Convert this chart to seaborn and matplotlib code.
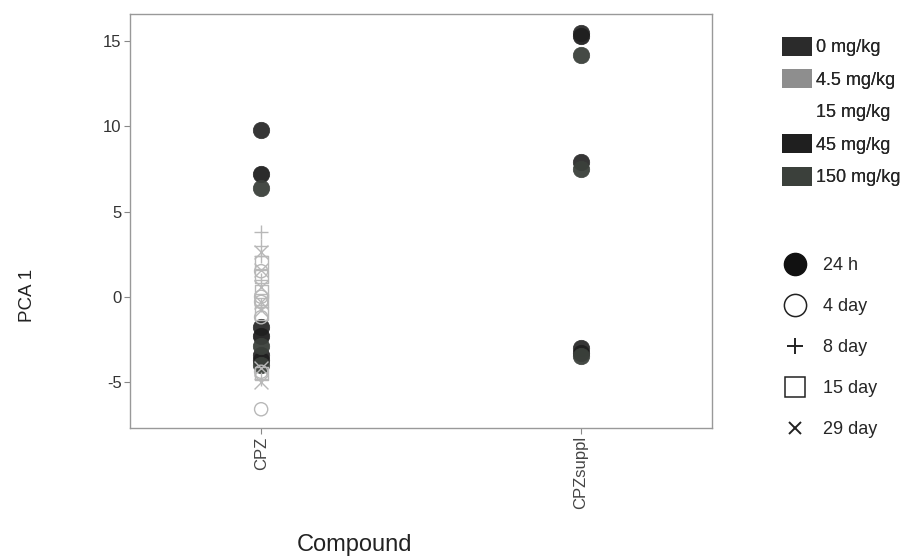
import numpy as np
import pandas as pd
import matplotlib
matplotlib.use("Agg")
import matplotlib.pyplot as plt
from matplotlib.lines import Line2D
from matplotlib.patches import Patch
import seaborn as sns

sns.set_theme(style="white")
plt.rcParams['font.family'] = ['Liberation Sans', 'DejaVu Sans']

compounds = ["CPZ", "CPZsuppl"]
dose_labels = ["0 mg/kg", "4.5 mg/kg", "15 mg/kg", "45 mg/kg", "150 mg/kg"]
dose_colors = ["#2b2b2b", "#8e8e8e", "#ffffff", "#1f1f1f", "#3b403b"]
time_labels = ["24 h", "4 day", "8 day", "15 day", "29 day"]
time_markers = ["o", "o", "+", "s", "x"]
time_filled = [True, False, False, False, False]

cpz_24h_vals = [9.8, 7.2, 6.4, -1.8, -2.3, -2.9, -3.4, -3.7, -4.0]
cpz_24h_dose = ["0 mg/kg", "45 mg/kg", "150 mg/kg", "0 mg/kg", "45 mg/kg",
                "150 mg/kg", "0 mg/kg", "45 mg/kg", "150 mg/kg"]
sup_24h_vals = [15.5, 15.3, 14.2, 7.9, 7.5, -3.0, -3.3, -3.5]
sup_24h_dose = ["0 mg/kg", "45 mg/kg", "150 mg/kg", "0 mg/kg", "150 mg/kg",
                "0 mg/kg", "45 mg/kg", "150 mg/kg"]
cpz_4d_vals = [1.5, 0.0, -0.3, -1.2, -4.4, -6.6]
cpz_8d_vals = [3.8, 3.0, 2.4, 1.0, -0.5, -4.8]
cpz_15d_vals = [2.0, 1.2, 0.3, -0.2, -1.0, -4.5]
cpz_29d_vals = [2.6, 1.6, 0.6, -0.3, -0.8, -4.2, -5.0]

rows = []
for v, d in zip(cpz_24h_vals, cpz_24h_dose):
    rows.append(("CPZ", d, "24 h", v))
for v, d in zip(sup_24h_vals, sup_24h_dose):
    rows.append(("CPZsuppl", d, "24 h", v))
for t, vals in [("4 day", cpz_4d_vals), ("8 day", cpz_8d_vals),
                ("15 day", cpz_15d_vals), ("29 day", cpz_29d_vals)]:
    for v in vals:
        rows.append(("CPZ", "4.5 mg/kg", t, v))
df = pd.DataFrame(rows, columns=["Compound", "Dose", "Time", "PCA1"])
df["Compound"] = pd.Categorical(df["Compound"], categories=compounds)

pal = dict(zip(dose_labels, dose_colors))
light = "#b8b8b8"

fig = plt.figure(figsize=(9.03, 5.57), dpi=100)
ax = fig.add_axes([0.144, 0.2316, 0.6445, 0.7435])

for t, m, filled in zip(time_labels, time_markers, time_filled):
    for d in dose_labels:
        sub = df[(df["Time"] == t) & (df["Dose"] == d)]
        if sub.empty:
            continue
        col = pal[d]
        if filled:
            sns.scatterplot(data=sub, x="Compound", y="PCA1", marker=m, s=140,
                            color=col, edgecolor=col, linewidth=0.5,
                            alpha=0.95, ax=ax, legend=False)
        elif m in ("+", "x"):
            sns.scatterplot(data=sub, x="Compound", y="PCA1", marker=m, s=100,
                            color=light, linewidth=1.0, ax=ax, legend=False)
        else:
            sns.scatterplot(data=sub, x="Compound", y="PCA1", marker=m, s=90,
                            color=light, facecolors="none",
                            edgecolor=light, linewidth=1.0, ax=ax,
                            legend=False)

ax.set_xlim(-0.41, 1.41)
ax.set_ylim(-7.7, 16.6)
ax.set_yticks([-5, 0, 5, 10, 15])
ax.set_yticklabels(["-5", "0", "5", "10", "15"], fontsize=12, color="#333333")
ax.set_xticks([0, 1])
ax.set_xticklabels(compounds, rotation=90, fontsize=12, color="#444444")
ax.tick_params(axis="both", direction="out", length=4, width=0.8,
               color="#888888", left=True, bottom=True, pad=2)
for sp in ax.spines.values():
    sp.set_color("#999999")
    sp.set_linewidth(1.0)
ax.grid(False)

ax.set_ylabel("PCA 1", fontsize=13.5, color="#222222")
ax.yaxis.set_label_coords(-0.1615, 0.321)
ax.set_xlabel("Compound", fontsize=17, color="#222222")
ax.xaxis.set_label_coords(0.385, -0.255)

# Dose legend
dose_handles = [Patch(facecolor=c, edgecolor="none") for c in dose_colors]
leg1 = fig.legend(dose_handles, dose_labels, loc="upper left",
                  bbox_to_anchor=(0.866, 0.9336), frameon=False, fontsize=13,
                  handlelength=1.67, handleheight=1.22, handletextpad=0.22,
                  labelspacing=0.72, borderpad=0, borderaxespad=0)
# Time legend
time_handles = []
for m, filled in zip(time_markers, time_filled):
    if filled:
        h = Line2D([], [], marker=m, linestyle="none", markersize=16,
                   markerfacecolor="#111111", markeredgecolor="#111111")
    elif m == "+":
        h = Line2D([], [], marker=m, linestyle="none", markersize=12,
                   markeredgecolor="#222222", markeredgewidth=1.4)
    elif m == "x":
        h = Line2D([], [], marker=m, linestyle="none", markersize=9,
                   markeredgecolor="#222222", markeredgewidth=1.4)
    else:
        h = Line2D([], [], marker=m, linestyle="none",
                   markersize=16 if m == "o" else 15,
                   markerfacecolor="none", markeredgecolor="#222222",
                   markeredgewidth=1.1)
    time_handles.append(h)
leg2 = fig.legend(time_handles, time_labels, loc="upper left",
                  bbox_to_anchor=(0.8644, 0.5386), frameon=False, fontsize=13,
                  handlelength=1.6, handletextpad=0.75, labelspacing=1.33,
                  borderpad=0, borderaxespad=0)
fig.add_artist(leg1)

fig.savefig("out.png", dpi=100, facecolor="white")
